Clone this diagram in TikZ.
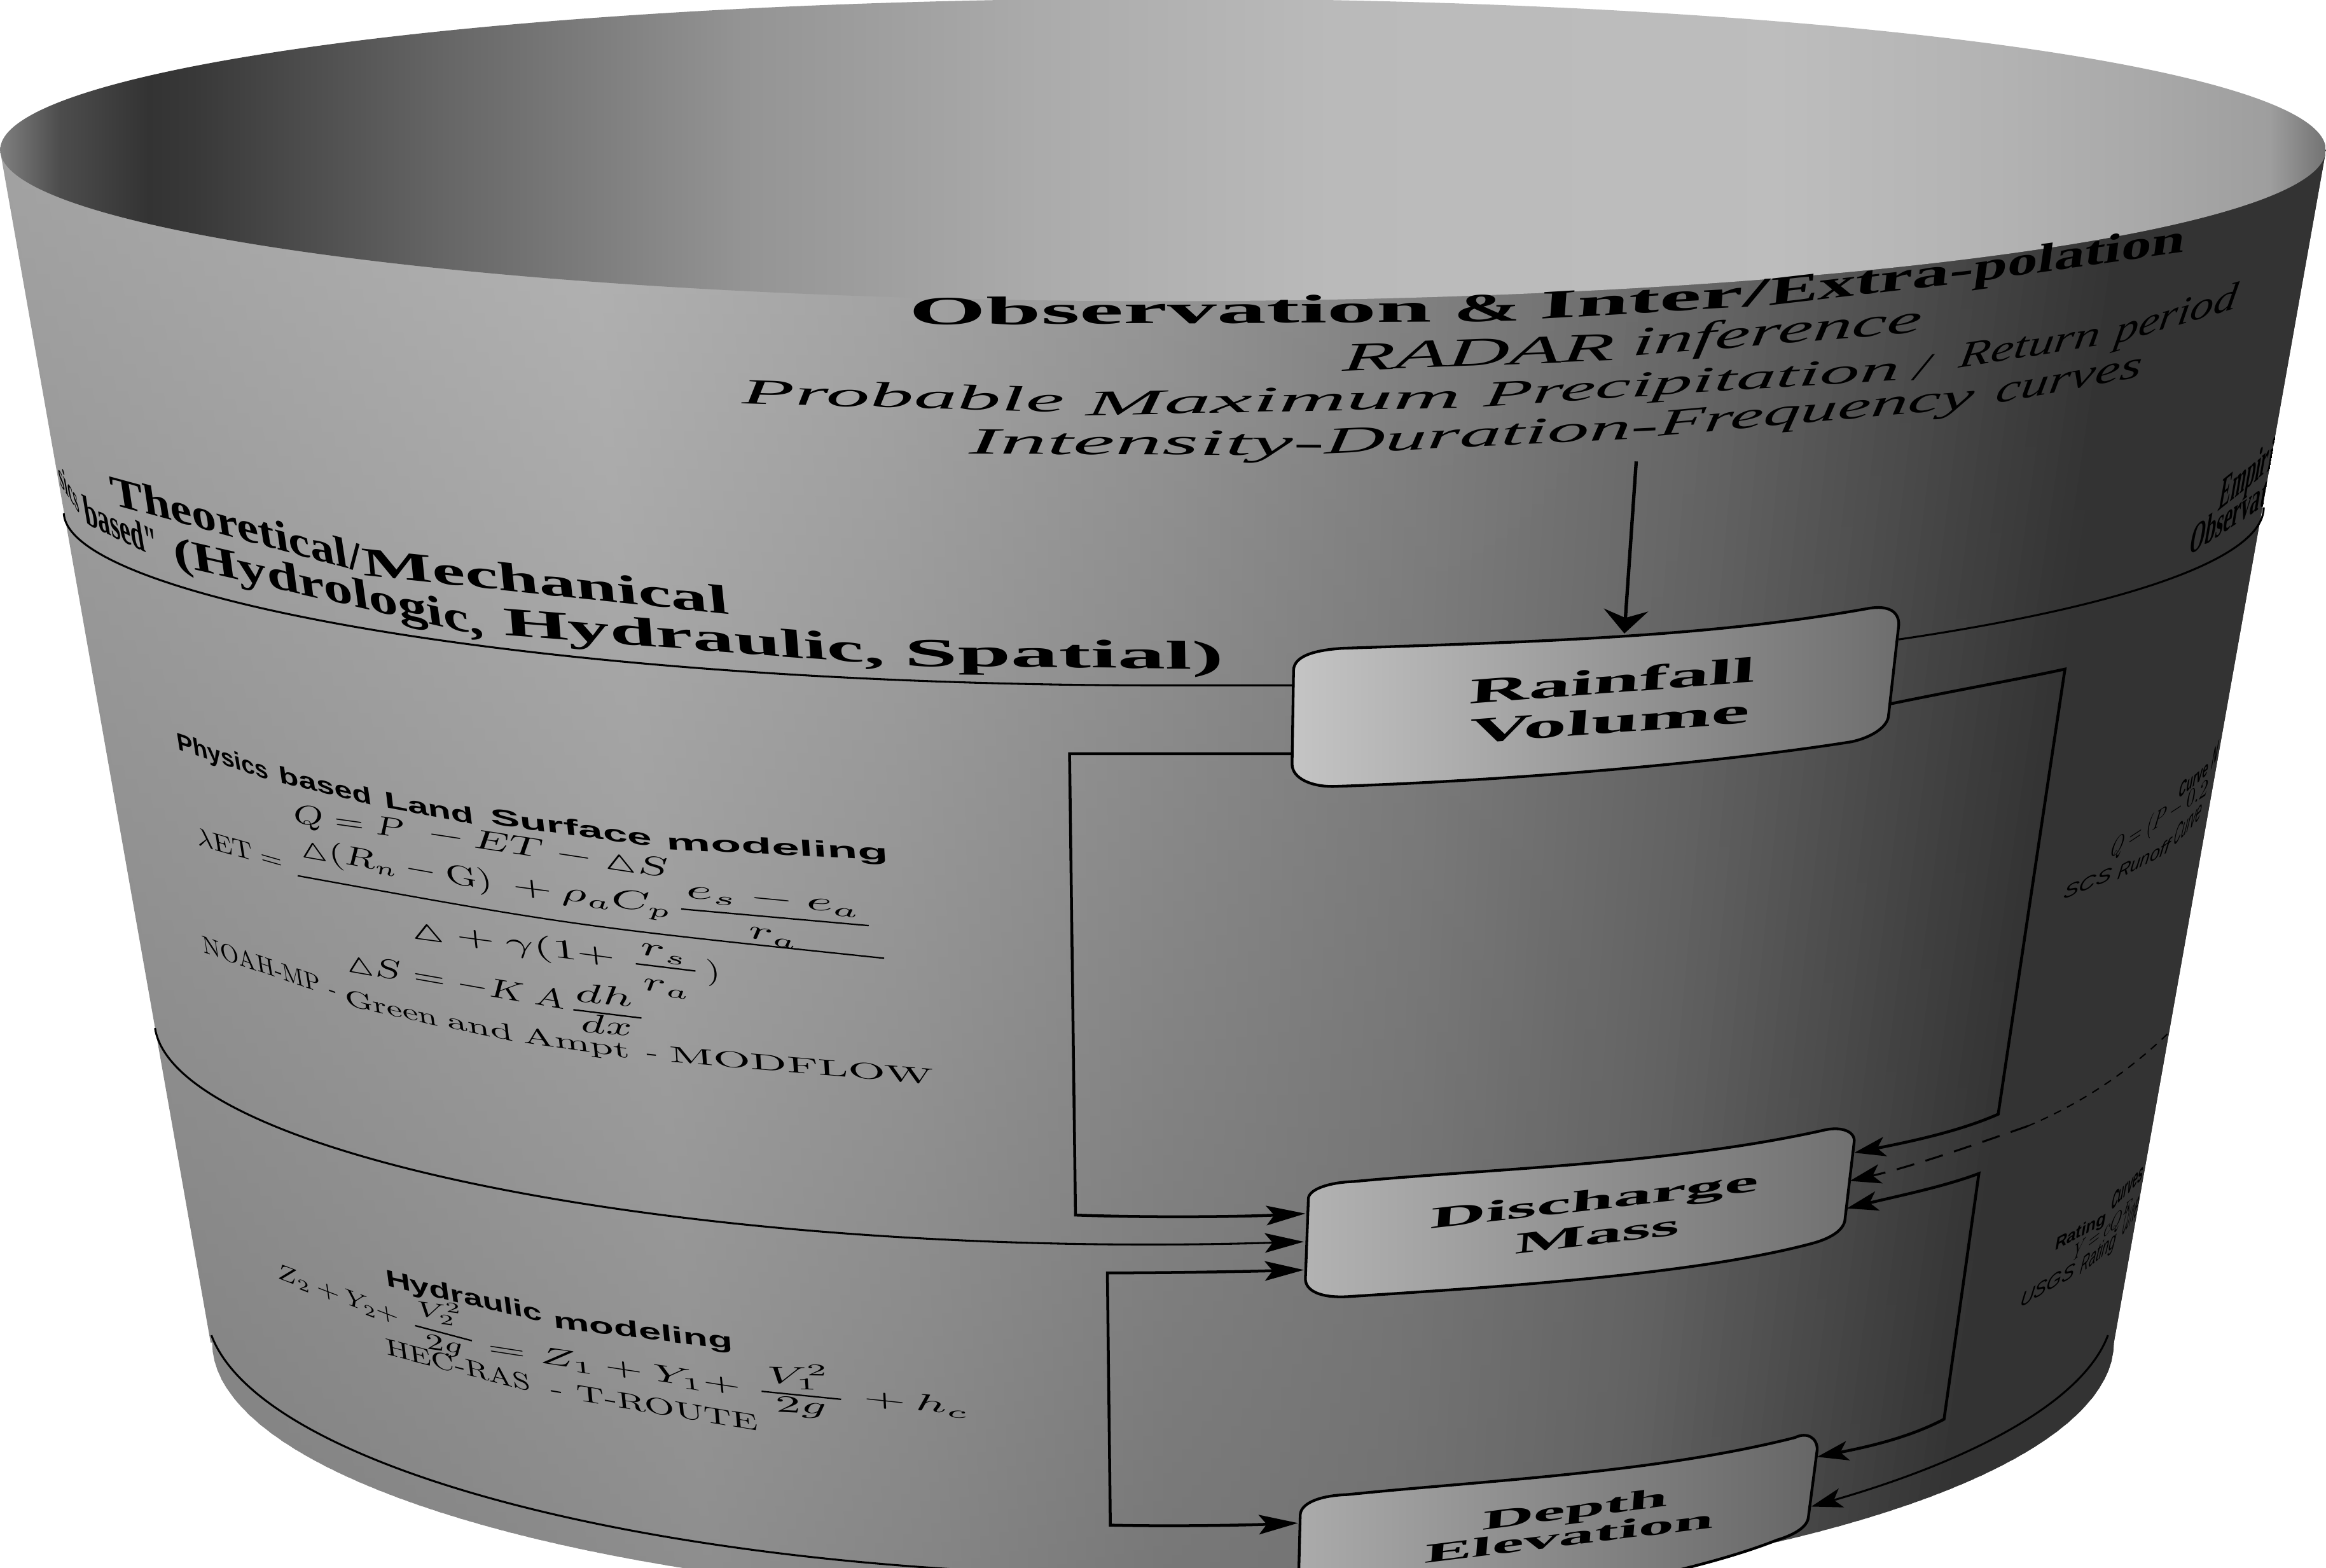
\documentclass[tikz,border=0pt]{standalone}
\usepackage{fontspec}
\usepackage{amsmath,amssymb}
\usepackage{graphicx}
\usetikzlibrary{arrows.meta}
\newfontfamily\ttl{Liberation Serif}
\newfontfamily\hsf{Liberation Sans}
\newcommand\Fbs{\ttl\bfseries}
\newcommand\Fis{\ttl\itshape}
\newcommand\Fsb{\hsf\bfseries}
\newcommand\Fso{\hsf\itshape}
\newcommand\tri{{\vartriangle}}
\newsavebox\wbox
\newcounter{wn}
\pgfmathdeclarefunction{gout}{1}{\pgfmathparse{(#1)<-0.5 ? 0.60+((#1)+1)*0.13 : ((#1)<-0.25 ? 0.665-((#1)+0.5)*0.18 : ((#1)<0 ? 0.62-((#1)+0.25)*0.24 : ((#1)<0.25 ? 0.56-(#1)*0.30 : ((#1)<0.5 ? 0.485-((#1)-0.25)*0.40 : ((#1)<0.85 ? 0.385-((#1)-0.5)*0.53 : 0.2)))))}}
\pgfdeclarehorizontalshading{innerwall}{100bp}{
 rgb(0bp)=(.5,.5,.5);rgb(25bp)=(.5,.5,.5);rgb(26.28bp)=(.3,.3,.3);rgb(28.19bp)=(.2,.2,.2);rgb(29.15bp)=(.22,.22,.22);
 rgb(34.57bp)=(.4,.4,.4);rgb(40.95bp)=(.58,.58,.58);rgb(47.32bp)=(.67,.67,.67);rgb(53.7bp)=(.73,.73,.73);
 rgb(63.27bp)=(.74,.74,.74);rgb(68.05bp)=(.7,.7,.7);rgb(71.24bp)=(.66,.66,.66);rgb(73.79bp)=(.62,.62,.62);rgb(75bp)=(.45,.45,.45);rgb(100bp)=(.45,.45,.45)}
% word on the wall: left baseline point, right baseline point, font size, text
\newcommand\wordat[6]{%
 \pgfmathsetmacro\WWdx{(#3)-(#1)}%
 \pgfmathsetmacro\WWdy{(#4)-(#2)}%
 \pgfmathsetmacro\WWr{atan2(-\WWdy,\WWdx)}%
 \pgfmathsetmacro\WWl{veclen(\WWdx,\WWdy)}%
 \pgfmathsetmacro\WWu{(((#1)+(#3))/2-784)/((4510-((#2)+(#4))/2)*0.178)}%
 \pgfmathsetmacro\WWphi{atan(\WWu*0.178)}%
 \pgfmathsetmacro\WWs{tan(\WWphi+\WWr)}%
 \pgfmathsetmacro\WWsy{(#5)*0.056905}%
 \stepcounter{wn}%
 \node[wallword,rotate=\WWr,xslant=\WWs] (w\thewn) at ({((#1)+(#3))/2},{((#2)+(#4))/2}) {\sbox\wbox{\fontsize{10}{12}\selectfont #6}\edef\WWw{\the\wd\wbox}\pgfmathsetmacro\WWsx{\WWl*0.56905/\WWw}\scalebox{\WWsx}[\WWsy]{\usebox\wbox}};%
}
\tikzset{
 wallword/.style={inner sep=0pt,outer sep=0pt,anchor=base,text=black},
 ringline/.style={draw=black,line width=.75pt},
 conn/.style={draw=black,line width=1.1pt,line join=miter},
 fracbar/.style={draw=black,line width=.55pt},
 flowbox/.style={draw=black,line width=1.05pt},
 tipL/.tip={Stealth[length=15pt,width=7.5pt,inset=3pt]},
 tipT/.tip={Stealth[length=9pt,width=17pt,inset=3pt]},
 tipR/.tip={Stealth[length=12pt,width=7.5pt,inset=3pt]}
}
\begin{document}
\begin{tikzpicture}[x=0.02cm,y=-0.02cm]
\useasboundingbox (0,0) rectangle (1568,1056.5);
\fill[white] (0,0) rectangle (1568,1056.5);
\begin{scope}
\clip (0,0) rectangle (1568,1056.5);
% outer wall
\begin{scope}
\clip (0,101) -- (142,905) -- plot[variable=\t,domain=180:0,samples=90] ({784+641*cos(\t)},{905+176*sin(\t)}) -- (1568,101) -- cycle;
\foreach \i in {0,...,199} {
 \pgfmathsetmacro\ua{-1.05+\i*0.0105}
 \pgfmathsetmacro\ub{\ua+0.0105+0.004}
 \pgfmathsetmacro\gm{gout(\ua+0.00525)}
 \pgfmathsetmacro\gt{max(0.2,min(1,\gm*(1.06-max(\ua,0)*0.12)))}
 \pgfmathsetmacro\gb{max(0.2,\gm*min(1,0.83+0.34*max(\ua,0)))}
 \definecolor{sta}{gray}{\gt}
 \definecolor{stb}{gray}{\gb}
 \shade[top color=sta,bottom color=stb] ({784+\ua*785.8},90) -- ({784+\ub*785.8},90) -- ({784+\ub*607.2},1094) -- ({784+\ua*607.2},1094) -- cycle;
}
\end{scope}
% inner wall
\path[shading=innerwall] (784,101) ellipse [x radius=15.68cm,y radius=2.04cm];
% named points
\coordinate (obsB) at (1103,311);
\coordinate (rainT) at (1095,427);
\coordinate (rainLa) at (871,508);
\coordinate (rainLb) at (721,508);
\coordinate (disLa) at (725,819);
\coordinate (disL1) at (880,818);
\coordinate (disL2) at (879,837);
\coordinate (disL3) at (879,856);
\coordinate (linkLa) at (746.5,858);
\coordinate (linkLb) at (748.5,1028);
\coordinate (depL) at (875,1026.6);
\coordinate (rainRa) at (1274,474.5);
\coordinate (rainRb) at (1392,451);
\coordinate (disRa) at (1347,751);
\coordinate (disR1) at (1250,777);
\coordinate (dashS) at (1461,697);
\coordinate (dashM) at (1367,759);
\coordinate (disR2) at (1247,796);
\coordinate (disR3) at (1245,814.5);
\coordinate (linkRa) at (1334,791);
\coordinate (linkRb) at (1310.5,956.6);
\coordinate (depR1) at (1225,982);
\coordinate (depR2) at (1221,1015.5);
\coordinate (r1L) at (43,346);
\coordinate (r1M) at (784,462);
\coordinate (r1box) at (880,462);
\coordinate (r1R) at (1280,431);
\coordinate (r1E) at (1526,342);
\coordinate (r2L) at (104.5,693);
\coordinate (r3L) at (142.5,900);
\coordinate (r3M) at (782,1062);
\coordinate (r3R) at (1421,900);
% rings
\draw[ringline] (r1L) .. controls (46,405) and (374,462) .. (r1M) -- (r1box);
\draw[ringline] (r1R) .. controls (1436,408) and (1526,376) .. (r1E);
\draw[ringline,-tipL] (r2L) .. controls (118.5,782) and (480,849) .. (disL2);
\draw[draw=black,line width=.5pt,dash pattern=on 3pt off 2.6pt] (dashS) .. controls (1432,725) and (1400,745) .. (dashM);
\draw[ringline,dash pattern=on 7pt off 4.5pt,-tipR] (dashM) .. controls (1330,772) and (1290,786) .. (disR2);
\draw[ringline] (r3L) .. controls (177,992) and (453,1062) .. (r3M);
\draw[ringline,-tipR] (r3R) .. controls (1405,943) and (1334,983) .. (depR2);
% connectors
\draw[conn,line width=1.3pt,-tipT] (obsB) -- (rainT);
\draw[conn,-tipL] (rainLa) -- (rainLb) -- (disLa) .. controls (780,821) and (840,820) .. (disL1);
\draw[conn,-tipR] (rainRa) .. controls (1320,465) and (1360,458) .. (rainRb) -- (disRa) .. controls (1320,763) and (1285,770) .. (disR1);
\draw[conn,tipL-tipL] (disL3) .. controls (840,857) and (790,858) .. (linkLa) -- (linkLb) .. controls (790,1029) and (840,1028) .. (depL);
\draw[conn,tipR-tipR] (disR3) .. controls (1280,806) and (1310,800) .. (linkRa) -- (linkRb) .. controls (1285,970) and (1255,976) .. (depR1);
% boxes
\draw[flowbox,left color=black!23,right color=black!57] (872,452) .. controls (872,441) and (890,438) .. (904.5,437) .. controls (1020,433) and (1150,430) .. (1260,410) .. controls (1273,408) and (1280,412) .. (1280,421) -- (1273,483) .. controls (1272,490) and (1262,497) .. (1248,500) .. controls (1160,514) and (1020,526) .. (902,530) .. controls (885,531) and (871,525) .. (871,515) -- cycle;
\draw[flowbox,left color=black!30,right color=black!56] (882,808) .. controls (882,802) and (895,797) .. (912.6,796.4) .. controls (1000,788) and (1125,785) .. (1228.5,762) .. controls (1240,759) and (1250,762) .. (1250,769) -- (1243.6,823) .. controls (1242,830) and (1233,835) .. (1222,838) .. controls (1140,860) and (1000,868) .. (908.5,874) .. controls (890,875) and (880,870) .. (880,862) -- cycle;
\draw[flowbox,left color=black!33,right color=black!60] (876.5,1021) .. controls (877,1013) and (890,1008) .. (908.5,1007.4) .. controls (1000,998) and (1115,993) .. (1210,969) .. controls (1218,965) and (1225,969) .. (1225,977) -- (1219,1023) .. controls (1218,1030) and (1208,1035) .. (1198,1038) .. controls (1130,1065) and (1000,1085) .. (908,1095) .. controls (890,1096) and (875,1090) .. (875,1080) -- cycle;
% text
\begin{scope}
\clip (0,101) -- (142,905) -- plot[variable=\t,domain=180:0,samples=90] ({784+641*cos(\t)},{905+176*sin(\t)}) -- (1568,101) -- cycle;
% observation block
\wordat{613}{219}{965}{217}{27}{\Fbs Observation}
\wordat{980}{217}{1025}{216}{27}{\Fbs\&}
\wordat{1038}{215}{1192}{206}{27}{\Fbs Inter/}
\wordat{1192}{206}{1330}{190}{27}{\Fbs Extra-}
\wordat{1330}{190}{1472}{170}{27}{\Fbs polation}
\wordat{905}{250}{1088}{243}{27}{\Fis RADAR}
\wordat{1100}{240}{1295}{224}{27}{\Fis inference}
\wordat{500}{272}{718}{278}{24}{\Fis Probable}
\wordat{732}{280}{985}{275}{24}{\Fis Maximum}
\wordat{1000}{274}{1280}{256}{24}{\Fis Precipitation}
\wordat{1290}{256}{1300}{255}{24}{\Fis /}
\wordat{1320}{248}{1415}{233}{24}{\Fis Return}
\wordat{1425}{232}{1507}{208}{24}{\Fis period}
\wordat{653}{306}{893}{307}{25}{\Fis Intensity-}
\wordat{893}{306}{1118}{295}{25}{\Fis Duration-}
\wordat{1118}{294}{1330}{275}{25}{\Fis Frequency}
\wordat{1345}{272}{1443}{254}{25}{\Fis curves}
% section titles left
\wordat{76}{340}{245}{386}{27}{\Fbs Theoretical/}
\wordat{245}{388}{492}{414}{27}{\Fbs Mechanical}
\wordat{41}{327}{54}{347}{10}{\Fbs sics}
\wordat{58}{353}{108}{377}{24}{\Fbs based"}
\wordat{118}{381}{327}{429}{27}{\Fbs (Hydrologic,}
\wordat{340}{428}{597}{448}{27}{\Fbs Hydraulic,}
\wordat{610}{449}{825}{451}{27}{\Fbs Spatial)}
% section titles right
\wordat{1495}{345}{1531}{316}{22}{\Fbs Empiri}
\wordat{1475}{375}{1527}{340.5}{22}{\Fbs Observat}
% box labels
\wordat{990}{474.5}{1183}{459.7}{24}{\Fbs Rainfall}
\wordat{990}{501}{1179}{487.3}{24}{\Fbs Volume}
\wordat{964}{828}{1185}{803}{20}{\Fbs Discharge}
\wordat{1021}{845.5}{1132}{832.3}{20}{\Fbs Mass}
\wordat{999}{1031.4}{1124}{1015}{18}{\Fbs Depth}
\wordat{960}{1053.7}{1155}{1029.7}{18}{\Fbs Elevation}
% physics block
\wordat{120.3}{505.3}{181.5}{525.8}{15}{\Fsb Physics}
\wordat{189}{527.6}{251.3}{542.6}{15}{\Fsb based}
\wordat{260}{544.4}{320.2}{555.6}{15}{\Fsb Land}
\wordat{331}{555.6}{440}{570.5}{15}{\Fsb Surface}
\wordat{449.7}{572.4}{599}{580}{15}{\Fsb modeling}
\wordat{198.8}{554.5}{273.5}{565}{18}{$Q=P$}
\wordat{288.8}{566.8}{451.6}{591.8}{18}{$-\,ET-\tri S$}
\wordat{133.7}{569.8}{191.1}{586.2}{16}{$\lambda\mathrm{ET}=$}
\wordat{202.6}{577.3}{332.8}{600.4}{18}{$\tri(R_n-\mathrm{G})$}
\wordat{346.2}{602.2}{452.7}{616.4}{18}{$+\,\rho_a C_p$}
\wordat{463}{605.2}{579.9}{616.4}{18}{$e_s-e_a$}
\draw[fracbar] (459.2,612.7) -- (585.6,623.9);
\wordat{505.2}{632}{537.7}{637.7}{18}{$r_a$}
\draw[fracbar] (200.7,590.3) .. controls (386,623.9) .. (596,645.9);
\wordat{277.3}{632}{415.2}{650.7}{18}{$\tri+\gamma(1+$}
\wordat{432.4}{643.3}{463.1}{648.9}{18}{$r_s$}
\draw[fracbar] (428.6,649.6) -- (468.8,654.5);
\wordat{434.3}{667.5}{465}{671.3}{18}{$r_a$}
\wordat{476.5}{660}{486}{661}{18}{$)$}
\wordat{233.3}{654.5}{380.7}{680.6}{18}{$\tri S=-K\,A$}
\wordat{388.4}{675}{426.7}{678.7}{18}{$dh$}
\draw[fracbar] (386.5,680.6) -- (432.4,686.2);
\wordat{392.2}{695.5}{426.7}{698.5}{18}{$dx$}
\wordat{137.5}{642.2}{227.5}{673.1}{15}{NOAH-MP -}
\wordat{233.3}{677.6}{295.7}{691.8}{15}{Green}
\wordat{302.2}{692.5}{346.2}{702.2}{15}{and}
\wordat{353.1}{703}{424.8}{713.4}{15}{Ampt}
\wordat{436.2}{714.2}{443.9}{715}{15}{-}
\wordat{451.6}{716}{629.7}{731}{15}{MODFLOW}
% hydraulic block
\wordat{260.7}{866.8}{366}{891}{15}{\Fsb Hydraulic}
\wordat{373.7}{895}{494.3}{909.7}{15}{\Fsb modeling}
\wordat{187.3}{861.5}{269.6}{893}{14}{$Z_2+Y_2+$}
\wordat{281.8}{886.8}{312.4}{891}{14}{$V_2^2$}
\draw[fracbar] (279.8,893.5) -- (318.1,903.7);
\wordat{287.5}{909}{312.4}{912.5}{15}{$2g$}
\wordat{329.6}{913.2}{500}{939.7}{16}{$=Z_1+Y_1+$}
\wordat{517.3}{932.5}{559.4}{933.2}{16}{$V_1^2$}
\draw[fracbar] (513.4,937.8) -- (567,943.2);
\wordat{523}{951.8}{557.5}{953.5}{16}{$2g$}
\wordat{582.3}{946.8}{653.2}{954.4}{16}{$+\,h_c$}
\wordat{260.7}{913.2}{358.3}{938.2}{15}{HEC-RAS}
\wordat{371.7}{941}{511.5}{964.7}{15}{- T-ROUTE}
% curve number block
\wordat{1468.5}{538.7}{1487.8}{522.3}{10}{\Fsb Curve}
\wordat{1490}{520}{1494}{512}{6}{\Fsb N}
\wordat{1422.3}{578.7}{1487.8}{535.9}{13}{$Q=(P-0.2$}
\wordat{1390.6}{606.6}{1422.8}{593}{11}{\Fso SCS}
\wordat{1427}{593}{1462}{574.5}{11}{\Fso Runoff}
\wordat{1465}{570.9}{1483.5}{551.6}{11}{\Fso Curve}
% rating block
\wordat{1384.9}{843.2}{1419.2}{824.6}{10}{\Fsb Rating}
\wordat{1422.8}{816.7}{1444}{795}{10}{\Fsb Curves}
\wordat{1397}{850.6}{1436.3}{820.3}{11}{$Y=cQ^F$}
\wordat{1361.3}{881.7}{1397.8}{860.3}{11}{\Fso USGS}
\wordat{1402}{859.6}{1425.6}{840.3}{11}{\Fso Rating}
\wordat{1430}{833.9}{1440.6}{818.9}{11}{\Fso Curve}
\end{scope}
\end{scope}
\end{tikzpicture}
\end{document}
